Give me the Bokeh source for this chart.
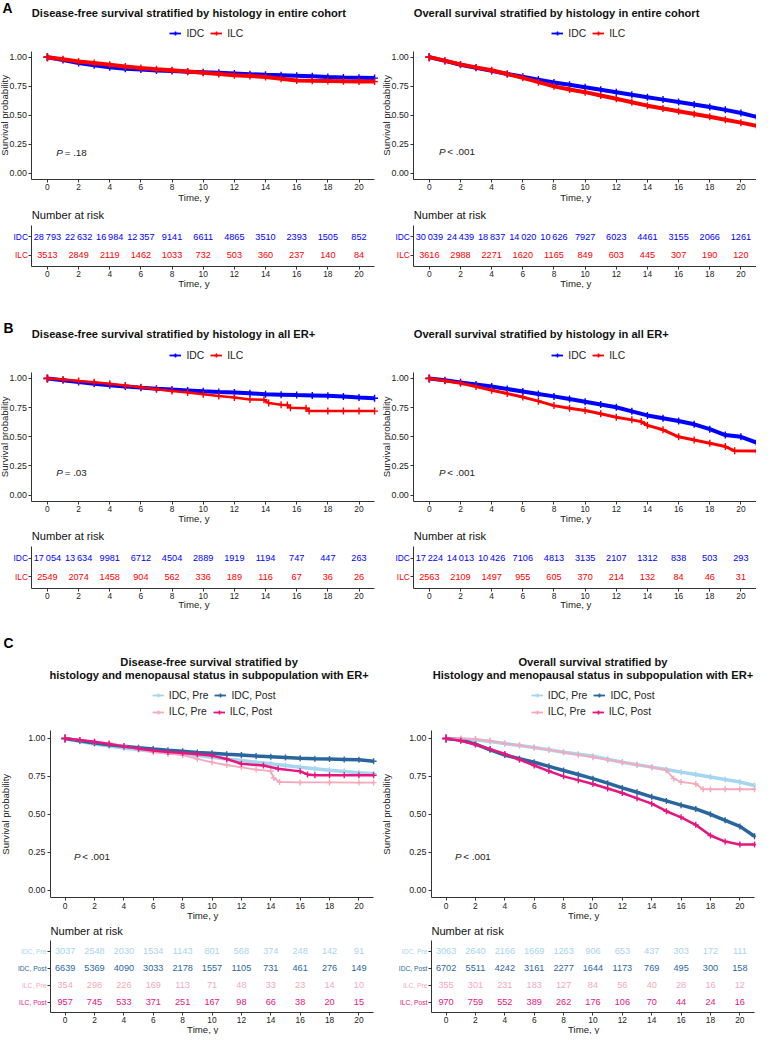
import math
from bokeh.plotting import figure
from bokeh.layouts import column, row
from bokeh.models import Label, Legend, LegendItem, Range1d, FixedTicker, NumeralTickFormatter
from bokeh.core.properties import value
from bokeh.embed import file_html
from bokeh.resources import INLINE

# ------------------------------------------------------------------ data
TIME_TICKS = [0, 2, 4, 6, 8, 10, 12, 14, 16, 18, 20]
SURV_TICKS = [0.0, 0.25, 0.50, 0.75, 1.00]
YEARS = [0, 1, 2, 3, 4, 5, 6, 7, 8, 9, 10, 11, 12, 13, 14, 15, 16, 17, 18, 19, 20, 21]

# Panel A - entire cohort
A_DFS_IDC_T = YEARS
A_DFS_IDC_S = [1.0, 0.975, 0.95, 0.93, 0.913, 0.90, 0.893, 0.886, 0.88, 0.875, 0.87,
               0.865, 0.86, 0.854, 0.848, 0.844, 0.84, 0.835, 0.83, 0.826, 0.823, 0.82]
A_DFS_ILC_T = YEARS
A_DFS_ILC_S = [1.0, 0.982, 0.963, 0.95, 0.935, 0.92, 0.907, 0.897, 0.888, 0.877, 0.865,
               0.855, 0.845, 0.838, 0.83, 0.815, 0.80, 0.797, 0.795, 0.792, 0.79, 0.79]
A_OS_IDC_T = YEARS
A_OS_IDC_S = [1.0, 0.968, 0.935, 0.908, 0.882, 0.856, 0.831, 0.807, 0.783, 0.762, 0.741,
              0.72, 0.699, 0.677, 0.656, 0.635, 0.614, 0.593, 0.572, 0.547, 0.52, 0.487]
A_OS_ILC_T = YEARS
A_OS_ILC_S = [1.0, 0.97, 0.938, 0.912, 0.887, 0.855, 0.822, 0.785, 0.749, 0.722, 0.699,
              0.67, 0.642, 0.612, 0.583, 0.558, 0.535, 0.511, 0.487, 0.462, 0.437, 0.41]

# Panel B - all ER+
B_DFS_IDC_T = YEARS
B_DFS_IDC_S = [1.0, 0.985, 0.969, 0.955, 0.941, 0.931, 0.921, 0.912, 0.904, 0.897, 0.89,
               0.884, 0.879, 0.872, 0.865, 0.861, 0.857, 0.854, 0.851, 0.845, 0.837, 0.83]
B_DFS_ILC_T = [0, 1, 2, 3, 4, 5, 6, 7, 8, 9, 10, 11, 12, 13, 13.9, 14.2, 15, 15.4, 15.6,
               16.6, 16.8, 18, 19, 20, 21]
B_DFS_ILC_S = [1.0, 0.99, 0.978, 0.967, 0.955, 0.94, 0.924, 0.908, 0.893, 0.88, 0.865,
               0.85, 0.837, 0.82, 0.818, 0.79, 0.775, 0.772, 0.748, 0.745, 0.72, 0.72,
               0.72, 0.72, 0.72]
B_OS_IDC_T = YEARS
B_OS_IDC_S = [1.0, 0.984, 0.966, 0.948, 0.93, 0.909, 0.888, 0.867, 0.846, 0.823, 0.80,
              0.777, 0.753, 0.718, 0.683, 0.659, 0.635, 0.607, 0.565, 0.515, 0.50, 0.45]
B_OS_ILC_T = [0, 1, 2, 3, 4, 5, 6, 7, 8, 9, 10, 11, 12, 13, 13.6, 14, 15, 16, 17, 18, 19,
              19.6, 21]
B_OS_ILC_S = [1.0, 0.98, 0.958, 0.93, 0.899, 0.87, 0.84, 0.805, 0.767, 0.745, 0.725,
              0.697, 0.668, 0.645, 0.63, 0.598, 0.56, 0.50, 0.472, 0.444, 0.416, 0.38, 0.378]

# Panel C - ER+ by histology and menopausal status
C_DFS_IDCPRE_T = YEARS
C_DFS_IDCPRE_S = [1.0, 0.98, 0.963, 0.95, 0.937, 0.926, 0.915, 0.906, 0.898, 0.887, 0.876,
                  0.865, 0.854, 0.843, 0.833, 0.822, 0.81, 0.80, 0.79, 0.782, 0.774, 0.767]
C_DFS_IDCPOST_T = YEARS
C_DFS_IDCPOST_S = [1.0, 0.985, 0.97, 0.959, 0.948, 0.939, 0.93, 0.922, 0.915, 0.908, 0.902,
                   0.896, 0.891, 0.885, 0.88, 0.875, 0.87, 0.867, 0.865, 0.862, 0.859, 0.85]
C_DFS_ILCPRE_T = [0, 1, 2, 3, 4, 5, 6, 7, 8, 9, 10, 11, 12, 13, 14, 14.2, 14.6, 16, 18, 20, 21]
C_DFS_ILCPRE_S = [1.0, 0.99, 0.978, 0.97, 0.95, 0.93, 0.909, 0.90, 0.89, 0.865, 0.843,
                  0.825, 0.81, 0.795, 0.785, 0.739, 0.713, 0.71, 0.71, 0.709, 0.709]
C_DFS_ILCPOST_T = [0, 1, 2, 3, 4, 5, 6, 7, 8, 9, 10, 11, 12, 13.5, 14.5, 16, 16.5, 17, 18,
                   19, 20, 21]
C_DFS_ILCPOST_S = [1.0, 0.99, 0.978, 0.963, 0.948, 0.933, 0.92, 0.91, 0.904, 0.896, 0.887,
                   0.865, 0.833, 0.822, 0.80, 0.783, 0.763, 0.757, 0.757, 0.757, 0.757, 0.757]

C_OS_IDCPRE_T = YEARS
C_OS_IDCPRE_S = [1.0, 0.997, 0.991, 0.98, 0.967, 0.954, 0.941, 0.925, 0.909, 0.896, 0.883,
                 0.863, 0.843, 0.827, 0.811, 0.795, 0.778, 0.762, 0.746, 0.73, 0.713, 0.69]
C_OS_IDCPOST_T = YEARS
C_OS_IDCPOST_S = [1.0, 0.99, 0.963, 0.925, 0.891, 0.866, 0.843, 0.816, 0.789, 0.762, 0.735,
                  0.705, 0.674, 0.645, 0.615, 0.588, 0.56, 0.535, 0.50, 0.46, 0.42, 0.355]
C_OS_ILCPRE_T = [0, 1, 2, 3, 4, 5, 6, 7, 8, 9, 10, 11, 12, 13, 14, 15, 15.5, 16, 17, 17.5,
                 18, 19, 20, 21]
C_OS_ILCPRE_S = [1.0, 1.0, 0.996, 0.985, 0.967, 0.955, 0.94, 0.925, 0.909, 0.892, 0.876,
                 0.86, 0.843, 0.827, 0.811, 0.79, 0.735, 0.713, 0.70, 0.665, 0.665, 0.665,
                 0.665, 0.665]
C_OS_ILCPOST_T = YEARS
C_OS_ILCPOST_S = [1.0, 0.985, 0.96, 0.93, 0.898, 0.86, 0.822, 0.785, 0.75, 0.725, 0.70,
                  0.67, 0.64, 0.605, 0.57, 0.52, 0.48, 0.43, 0.36, 0.32, 0.30, 0.30]

# Numbers at risk (at TIME_TICKS)
RISK_A_DFS_IDC = [28793, 22632, 16984, 12357, 9141, 6611, 4865, 3510, 2393, 1505, 852]
RISK_A_DFS_ILC = [3513, 2849, 2119, 1462, 1033, 732, 503, 360, 237, 140, 84]
RISK_A_OS_IDC = [30039, 24439, 18837, 14020, 10626, 7927, 6023, 4461, 3155, 2066, 1261]
RISK_A_OS_ILC = [3616, 2988, 2271, 1620, 1165, 849, 603, 445, 307, 190, 120]
RISK_B_DFS_IDC = [17054, 13634, 9981, 6712, 4504, 2889, 1919, 1194, 747, 447, 263]
RISK_B_DFS_ILC = [2549, 2074, 1458, 904, 562, 336, 189, 116, 67, 36, 26]
RISK_B_OS_IDC = [17224, 14013, 10426, 7106, 4813, 3135, 2107, 1312, 838, 503, 293]
RISK_B_OS_ILC = [2563, 2109, 1497, 955, 605, 370, 214, 132, 84, 46, 31]
RISK_C_DFS_IDCPRE = [3037, 2548, 2030, 1534, 1143, 801, 568, 374, 248, 142, 91]
RISK_C_DFS_IDCPOST = [6639, 5369, 4090, 3033, 2178, 1557, 1105, 731, 461, 276, 149]
RISK_C_DFS_ILCPRE = [354, 298, 226, 169, 113, 71, 48, 33, 23, 14, 10]
RISK_C_DFS_ILCPOST = [957, 745, 533, 371, 251, 167, 98, 66, 38, 20, 15]
RISK_C_OS_IDCPRE = [3063, 2640, 2166, 1669, 1263, 906, 653, 437, 303, 172, 111]
RISK_C_OS_IDCPOST = [6702, 5511, 4242, 3161, 2277, 1644, 1173, 769, 495, 300, 158]
RISK_C_OS_ILCPRE = [355, 301, 231, 183, 127, 84, 56, 40, 28, 16, 12]
RISK_C_OS_ILCPOST = [970, 759, 552, 389, 262, 176, 106, 70, 44, 24, 16]

# ------------------------------------------------------------------ style
FONT = "Liberation Sans"
AXC = "#333333"
TXT = "#222222"
BLUE = "#0000FF"
RED = "#FF0000"
IDC_PRE = "#A6D5EF"
IDC_POST = "#2A669E"
ILC_PRE = "#F4A9BD"
ILC_POST = "#E5177F"

SX = 756 / 772
SY = 1034 / 1050


def fs(px):
    return f"{px * SY:.2f}px"


def X(v):
    return round(v * SX)


def Y(v):
    return round(v * SY)


def make_fig(box, frame, xr, yr):
    """Figure whose whole canvas is the frame; axes are pinned at the panel edges."""
    bx0, by0, bx1, by1 = box
    fl, ft, fr, fb = frame
    kx = (xr[1] - xr[0]) / (fr - fl)
    ky = (yr[1] - yr[0]) / (fb - ft)
    x_lo = xr[0] - (fl - bx0) * kx
    x_hi = xr[1] + (bx1 - fr) * kx
    y_lo = yr[0] - (by1 - fb) * ky
    y_hi = yr[1] + (ft - by0) * ky
    p = figure(width=X(bx1) - X(bx0), height=Y(by1) - Y(by0),
               x_range=Range1d(x_lo, x_hi), y_range=Range1d(y_lo, y_hi),
               min_border=0, output_backend="svg", toolbar_location=None, tools="")
    p.title.visible = False
    p.xgrid.visible = False
    p.ygrid.visible = False
    p.outline_line_color = None
    p.background_fill_color = "white"
    p.border_fill_color = "white"
    for ax in (p.xaxis[0], p.yaxis[0]):
        ax.axis_line_color = AXC
        ax.axis_line_width = 1
        ax.major_tick_line_color = AXC
        ax.major_tick_out = 3
        ax.major_tick_in = 0
        ax.minor_tick_line_color = None
        ax.major_label_text_font = FONT
        ax.major_label_text_color = TXT
        ax.major_label_standoff = 2
    p.xaxis.fixed_location = yr[0]
    p.xaxis.bounds = (xr[0], xr[1])
    p.yaxis.fixed_location = xr[0]
    p.yaxis.bounds = (yr[0], yr[1])
    p.xaxis.ticker = FixedTicker(ticks=TIME_TICKS)
    p.xaxis.major_label_text_font_size = fs(8.5)

    def dx(xref):
        return xr[0] + (xref - fl) * kx

    def dy(yref):
        return yr[1] - (yref - ft) * ky

    return p, dx, dy


def label(p, x, y, text, size, color=TXT, align="left", style="normal", angle=0.0):
    p.add_layout(Label(x=x, y=y, text=text, text_align=align, text_baseline="middle",
                       text_font=FONT, text_font_size=fs(size), text_color=color,
                       text_font_style=style, angle=angle))


def km_panel(box, frame, series, titles, title_x, title_align, legend_rows, legend_x,
             pval, p_xy, ylab_x, time_y, letter=None):
    p, dx, dy = make_fig(box, frame, (-1, 21), (-0.05, 1.05))
    p.yaxis.ticker = FixedTicker(ticks=SURV_TICKS)
    p.yaxis.formatter = NumeralTickFormatter(format="0.00")
    p.yaxis.major_label_text_font_size = fs(9)
    keys = {}
    for name, t, s, color, lw, msz in series:
        p.line(t, s, line_color=color, line_width=lw)
        p.scatter(t, s, marker="cross", size=msz, line_color=color, line_width=1.4)
        # legend key: thin line + censor cross (drawn on the curve's first point)
        kl = p.line(t[:1], s[:1], line_color=color, line_width=1.8)
        km = p.scatter(t[:1], s[:1], marker="cross", size=8, line_color=color, line_width=1.5)
        keys[name] = (kl, km)
    fl, ft, fr, fb = frame
    bx0, by0, bx1, by1 = box
    for text, ty in titles:
        label(p, dx(title_x), dy(ty), text, 11.3, color="#111111", align=title_align,
              style="bold")
    if letter:
        label(p, dx(letter[1]), dy(letter[2]), letter[0], 14, color="#000000", style="bold")
    for names, cy in legend_rows:
        items = [LegendItem(label=n, renderers=list(keys[n])) for n in names]
        h = 12
        leg = Legend(items=items, location=((legend_x - bx0) * SX, (by1 - cy) * SY - h / 2),
                     orientation="horizontal", glyph_width=12, glyph_height=10,
                     label_standoff=5, spacing=6, padding=0, margin=0,
                     border_line_color=None, background_fill_alpha=0,
                     label_text_font=FONT, label_text_font_size=fs(10.5),
                     label_text_color=TXT, label_width=0, label_height=10)
        p.add_layout(leg)
    label(p, dx(p_xy[0]), dy(p_xy[1]), "P", 10, style="italic")
    label(p, dx(p_xy[0] + 8.5), dy(p_xy[1]), pval, 10)
    label(p, dx(ylab_x), dy((ft + fb) / 2), "Survival probability", 9.8, align="center",
          angle=math.pi / 2)
    label(p, dx((fl + fr) / 2 - 9.5), dy(time_y), "Time, y", 9.8, align="center")
    return p


def fmt(n):
    if n >= 10000:
        return f"{n:,}".replace(",", "\u2009")
    return str(n)


def risk_panel(box, frame, rows, row_fs, title_y, time_y):
    n = len(rows)
    p, dx, dy = make_fig(box, frame, (-1, 21), (0.4, n + 0.6))
    p.yaxis.ticker = FixedTicker(ticks=list(range(1, n + 1)))
    p.yaxis.major_label_text_alpha = 0
    p.yaxis.major_label_text_font_size = fs(6)
    fl, ft, fr, fb = frame
    for i, (name, counts, color) in enumerate(rows):
        yv = n - i
        p.text(x=TIME_TICKS, y=[yv] * len(TIME_TICKS), text=[fmt(c) for c in counts],
               text_align="center", text_baseline="middle", text_font=value(FONT),
               text_font_size=value(fs(9.3)), text_color=color)
        label(p, dx(fl - 4), yv, name, row_fs, color=color, align="right")
    label(p, dx(fl), dy(title_y), "Number at risk", 11.3, color="#111111")
    label(p, dx((fl + fr) / 2 - 9.5), dy(time_y), "Time, y", 9.8, align="center")
    return p


# ------------------------------------------------------------------ layout (reference px)
LB = (0, 386)
RB = (386, 772)
ROWS = [(0, 207), (207, 297), (297, 532), (532, 622), (622, 937), (937, 1050)]


def bx(col, r):
    return (col[0], ROWS[r][0], col[1], ROWS[r][1])


LW, PW = 4.0, 7

pA_l = km_panel(bx(LB, 0), (32, 51.6, 382, 181.4),
                [("IDC", A_DFS_IDC_T, A_DFS_IDC_S, BLUE, LW, PW),
                 ("ILC", A_DFS_ILC_T, A_DFS_ILC_S, RED, LW, PW)],
                [("Disease-free survival stratified by histology in entire cohort", 12.5)],
                32, "left", [(["IDC", "ILC"], 33)], 173, "= .18", (57, 154), 4.5, 200,
                letter=("A", 2, 8))
pA_r = km_panel(bx(RB, 0), (422, 51.6, 772, 181.4),
                [("IDC", A_OS_IDC_T, A_OS_IDC_S, BLUE, LW, PW),
                 ("ILC", A_OS_ILC_T, A_OS_ILC_S, RED, LW, PW)],
                [("Overall survival stratified by histology in entire cohort", 12.5)],
                422, "left", [(["IDC", "ILC"], 33)], 563, "< .001", (447.7, 153), 394, 200)
rA_l = risk_panel(bx(LB, 1), (32, 228.6, 382, 270.4),
                  [("IDC", RISK_A_DFS_IDC, BLUE), ("ILC", RISK_A_DFS_ILC, RED)], 8.5, 218, 288)
rA_r = risk_panel(bx(RB, 1), (422, 228.6, 772, 270.4),
                  [("IDC", RISK_A_OS_IDC, BLUE), ("ILC", RISK_A_OS_ILC, RED)], 8.5, 218, 288)

pB_l = km_panel(bx(LB, 2), (32, 378.1, 382, 508.2),
                [("IDC", B_DFS_IDC_T, B_DFS_IDC_S, BLUE, LW, PW),
                 ("ILC", B_DFS_ILC_T, B_DFS_ILC_S, RED, 2.5, PW)],
                [("Disease-free survival stratified by histology in all ER+", 339.3)],
                32, "left", [(["IDC", "ILC"], 360)], 173, "= .03", (57, 479), 4.5, 526,
                letter=("B", 3, 333))
pB_r = km_panel(bx(RB, 2), (422, 378.1, 772, 508.2),
                [("IDC", B_OS_IDC_T, B_OS_IDC_S, BLUE, LW, PW),
                 ("ILC", B_OS_ILC_T, B_OS_ILC_S, RED, 3.0, PW)],
                [("Overall survival stratified by histology in all ER+", 339.3)],
                422, "left", [(["IDC", "ILC"], 360)], 563, "< .001", (447.7, 479), 394, 526)
rB_l = risk_panel(bx(LB, 3), (32, 554.6, 382, 596.4),
                  [("IDC", RISK_B_DFS_IDC, BLUE), ("ILC", RISK_B_DFS_ILC, RED)], 8.5, 544, 613)
rB_r = risk_panel(bx(RB, 3), (422, 554.6, 772, 596.4),
                  [("IDC", RISK_B_OS_IDC, BLUE), ("ILC", RISK_B_OS_ILC, RED)], 8.5, 544, 613)

pC_l = km_panel(bx(LB, 4), (51, 741.3, 381, 910.7),
                [("IDC, Pre", C_DFS_IDCPRE_T, C_DFS_IDCPRE_S, IDC_PRE, 3.5, 6),
                 ("IDC, Post", C_DFS_IDCPOST_T, C_DFS_IDCPOST_S, IDC_POST, 3.5, 6),
                 ("ILC, Pre", C_DFS_ILCPRE_T, C_DFS_ILCPRE_S, ILC_PRE, 1.8, 6),
                 ("ILC, Post", C_DFS_ILCPOST_T, C_DFS_ILCPOST_S, ILC_POST, 2.5, 6)],
                [("Disease-free survival stratified by", 671),
                 ("histology and menopausal status in subpopulation with ER+", 684)],
                213, "center", [(["IDC, Pre", "IDC, Post"], 705), (["ILC, Pre", "ILC, Post"], 722)],
                155, "< .001", (75, 869), 5, 929, letter=("C", 3, 652))
pC_r = km_panel(bx(RB, 4), (440, 741.3, 770, 910.7),
                [("IDC, Pre", C_OS_IDCPRE_T, C_OS_IDCPRE_S, IDC_PRE, 3.5, 6),
                 ("IDC, Post", C_OS_IDCPOST_T, C_OS_IDCPOST_S, IDC_POST, 3.5, 6),
                 ("ILC, Pre", C_OS_ILCPRE_T, C_OS_ILCPRE_S, ILC_PRE, 1.8, 6),
                 ("ILC, Post", C_OS_ILCPOST_T, C_OS_ILCPOST_S, ILC_POST, 2.5, 6)],
                [("Overall survival stratified by", 671),
                 ("Histology and menopausal status in subpopulation with ER+", 684)],
                605, "center", [(["IDC, Pre", "IDC, Post"], 705), (["ILC, Pre", "ILC, Post"], 722)],
                542, "< .001", (464, 869), 394, 929)
C_ROWS_DFS = [("IDC, Pre", RISK_C_DFS_IDCPRE, IDC_PRE), ("IDC, Post", RISK_C_DFS_IDCPOST, IDC_POST),
              ("ILC, Pre", RISK_C_DFS_ILCPRE, ILC_PRE), ("ILC, Post", RISK_C_DFS_ILCPOST, ILC_POST)]
C_ROWS_OS = [("IDC, Pre", RISK_C_OS_IDCPRE, IDC_PRE), ("IDC, Post", RISK_C_OS_IDCPOST, IDC_POST),
             ("ILC, Pre", RISK_C_OS_ILCPRE, ILC_PRE), ("ILC, Post", RISK_C_OS_ILCPOST, ILC_POST)]
rC_l = risk_panel(bx(LB, 5), (51, 954.6, 381, 1027.4), C_ROWS_DFS, 6.8, 945, 1045)
rC_r = risk_panel(bx(RB, 5), (440, 954.6, 770, 1027.4), C_ROWS_OS, 6.8, 945, 1045)

layout = column(row(pA_l, pA_r), row(rA_l, rA_r), row(pB_l, pB_r), row(rB_l, rB_r),
                row(pC_l, pC_r), row(rC_l, rC_r))

open("out.html", "w").write(file_html(layout, INLINE))
